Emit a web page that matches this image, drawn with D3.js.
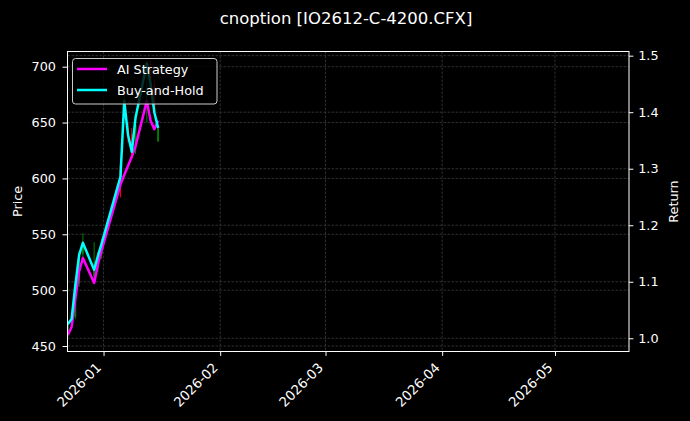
<!DOCTYPE html>
<html><head><meta charset="utf-8">
<script src="https://cdn.jsdelivr.net/npm/d3@7"></script>
<style>
html,body{margin:0;padding:0;background:#000;}
svg{display:block;font-family:"DejaVu Sans",sans-serif;}
</style></head>
<body>
<svg id="chart" width="690" height="421"></svg>
<script>
const title = "cnoption [IO2612-C-4200.CFX]";
const dates = ["2025-12-22","2025-12-23","2025-12-24","2025-12-25","2025-12-26","2025-12-29","2025-12-30","2025-12-31","2026-01-05","2026-01-06","2026-01-07","2026-01-08","2026-01-09","2026-01-12","2026-01-13","2026-01-14","2026-01-15"];
const openP  = [462,470,476,506,532,512,520,532,612,664,645,640,626,700,700,684,633];
const highP  = [472,478,508,535,551,543,534,546,618,674,650,645,652,705,705,688,648];
const lowP   = [458,466,474,503,528,510,516,528,583,660,632,618,622,650,680,655,634];
const closeP = [470,474,505,531,542,518,531,542,601,670,639,624,648,703,685,660,645];
const aiStrategy = [1.006,1.020,1.070,1.118,1.142,1.098,1.131,1.156,1.272,1.289,1.305,1.321,1.340,1.420,1.385,1.370,1.385];
const buyHold    = [1.025,1.034,1.094,1.147,1.169,1.121,1.146,1.168,1.286,1.420,1.360,1.330,1.390,1.486,1.450,1.400,1.372];
const priceTicks = [450,500,550,600,650,700];
const returnTicks = [1.0,1.1,1.2,1.3,1.4,1.5];
const monthTicks = ["2026-01-01","2026-02-01","2026-03-01","2026-04-01","2026-05-01"];
const xDomain = ["2025-12-22T10:00:00Z","2026-05-20T16:00:00Z"];
const priceDomain = [445.1, 713.6];
const returnDomain = [0.9766, 1.5074];
const seriesNames = ["AI Strategy","Buy-and-Hold"];
const seriesColors = ["#ff00ff","#00ffff"];

const L = 67.5, R = 629, T = 51.5, B = 351.5;
const svg = d3.select("#chart");
svg.append("rect").attr("width",690).attr("height",421).attr("fill","#000");

const parse = s => new Date(s.length === 10 ? s + "T12:00:00Z" : s);
const x = d3.scaleUtc().domain(xDomain.map(d=>new Date(d))).range([L,R]);
const yP = d3.scaleLinear().domain(priceDomain).range([B,T]);
const yR = d3.scaleLinear().domain(returnDomain).range([B,T]);

svg.append("defs").append("clipPath").attr("id","clip")
  .append("rect").attr("x",L).attr("y",T).attr("width",R-L).attr("height",B-T);

// grids
const grid = svg.append("g").attr("stroke","#454545").attr("stroke-width",0.7).attr("stroke-dasharray","2.5,1.5");
monthTicks.forEach(m=>{const xx=x(new Date(m+"T00:00:00Z"));grid.append("line").attr("x1",xx).attr("x2",xx).attr("y1",T).attr("y2",B);});
priceTicks.forEach(v=>{grid.append("line").attr("x1",L).attr("x2",R).attr("y1",yP(v)).attr("y2",yP(v));});
returnTicks.forEach(v=>{grid.append("line").attr("x1",L).attr("x2",R).attr("y1",yR(v)).attr("y2",yR(v));});

const plot = svg.append("g").attr("clip-path","url(#clip)");
// candles
const candles = dates.map((d,i)=>({d:parse(d),o:openP[i],h:highP[i],l:lowP[i],c:closeP[i]}));
const cg = plot.append("g");
candles.forEach(c=>{
  const col = c.c >= c.o ? "#008000" : "#ff0000";
  const xx = x(c.d);
  cg.append("line").attr("x1",xx).attr("x2",xx).attr("y1",yP(c.h)).attr("y2",yP(c.l)).attr("stroke",col).attr("stroke-width",1);
  cg.append("rect").attr("x",xx-0.9).attr("width",1.8)
    .attr("y",yP(Math.max(c.o,c.c))).attr("height",Math.max(0.5,Math.abs(yP(c.o)-yP(c.c)))).attr("fill",col);
});
// lines
const line = d3.line().x(d=>x(d[0])).y(d=>yR(d[1]));
[aiStrategy,buyHold].forEach((vals,k)=>{
  plot.append("path").datum(dates.map((d,i)=>[parse(d),vals[i]]))
    .attr("d",line).attr("fill","none").attr("stroke",seriesColors[k]).attr("stroke-width",2.5).attr("stroke-linejoin","round");
});

// frame
svg.append("rect").attr("x",L).attr("y",T).attr("width",R-L).attr("height",B-T).attr("fill","none").attr("stroke","#fff").attr("stroke-width",1);

// axes
const fs = 12.8;
const left = svg.append("g").attr("transform",`translate(${L},0)`)
  .call(d3.axisLeft(yP).tickValues(priceTicks).tickSize(5).tickPadding(6.5).tickFormat(d3.format("d")));
const right = svg.append("g").attr("transform",`translate(${R},0)`)
  .call(d3.axisRight(yR).tickValues(returnTicks).tickSize(4.4).tickPadding(4.8).tickFormat(d3.format(".1f")));
const bottom = svg.append("g").attr("transform",`translate(0,${B})`)
  .call(d3.axisBottom(x).tickValues(monthTicks.map(m=>new Date(m+"T00:00:00Z"))).tickSize(4.4).tickFormat(d3.utcFormat("%Y-%m")));
[left,right,bottom].forEach(g=>{
  g.select(".domain").remove();
  g.selectAll(".tick line").attr("stroke","#fff").attr("stroke-width",1);
  g.selectAll(".tick text").attr("fill","#fff").style("font-size",fs+"px").style("font-family","DejaVu Sans");
});
bottom.selectAll(".tick text").attr("text-anchor","end").attr("dy",null).attr("y",null)
  .style("font-size","13.3px")
  .attr("transform","translate(-2,17) rotate(-45)");

// labels
svg.append("text").attr("x",346).attr("y",24).attr("text-anchor","middle").attr("fill","#fff").style("font-size","16.5px").text(title);
svg.append("text").attr("transform",`translate(22,${(T+B)/2}) rotate(-90)`).attr("text-anchor","middle").attr("fill","#fff").style("font-size",fs+"px").text("Price");
svg.append("text").attr("transform",`translate(678,${(T+B)/2}) rotate(-90)`).attr("text-anchor","middle").attr("fill","#fff").style("font-size",fs+"px").text("Return");

// legend
const lg = svg.append("g");
lg.append("rect").attr("x",72.5).attr("y",58.5).attr("width",144.5).attr("height",45.5).attr("rx",3)
  .attr("fill","#000").attr("fill-opacity",0.8).attr("stroke","#cccccc").attr("stroke-width",1);
seriesNames.forEach((n,i)=>{
  const yy = 69 + i*21;
  lg.append("line").attr("x1",77).attr("x2",107).attr("y1",yy).attr("y2",yy).attr("stroke",seriesColors[i]).attr("stroke-width",2.5);
  lg.append("text").attr("x",117).attr("y",yy+4.5).attr("fill","#fff").style("font-size",fs+"px").text(n);
});
</script>
</body></html>
